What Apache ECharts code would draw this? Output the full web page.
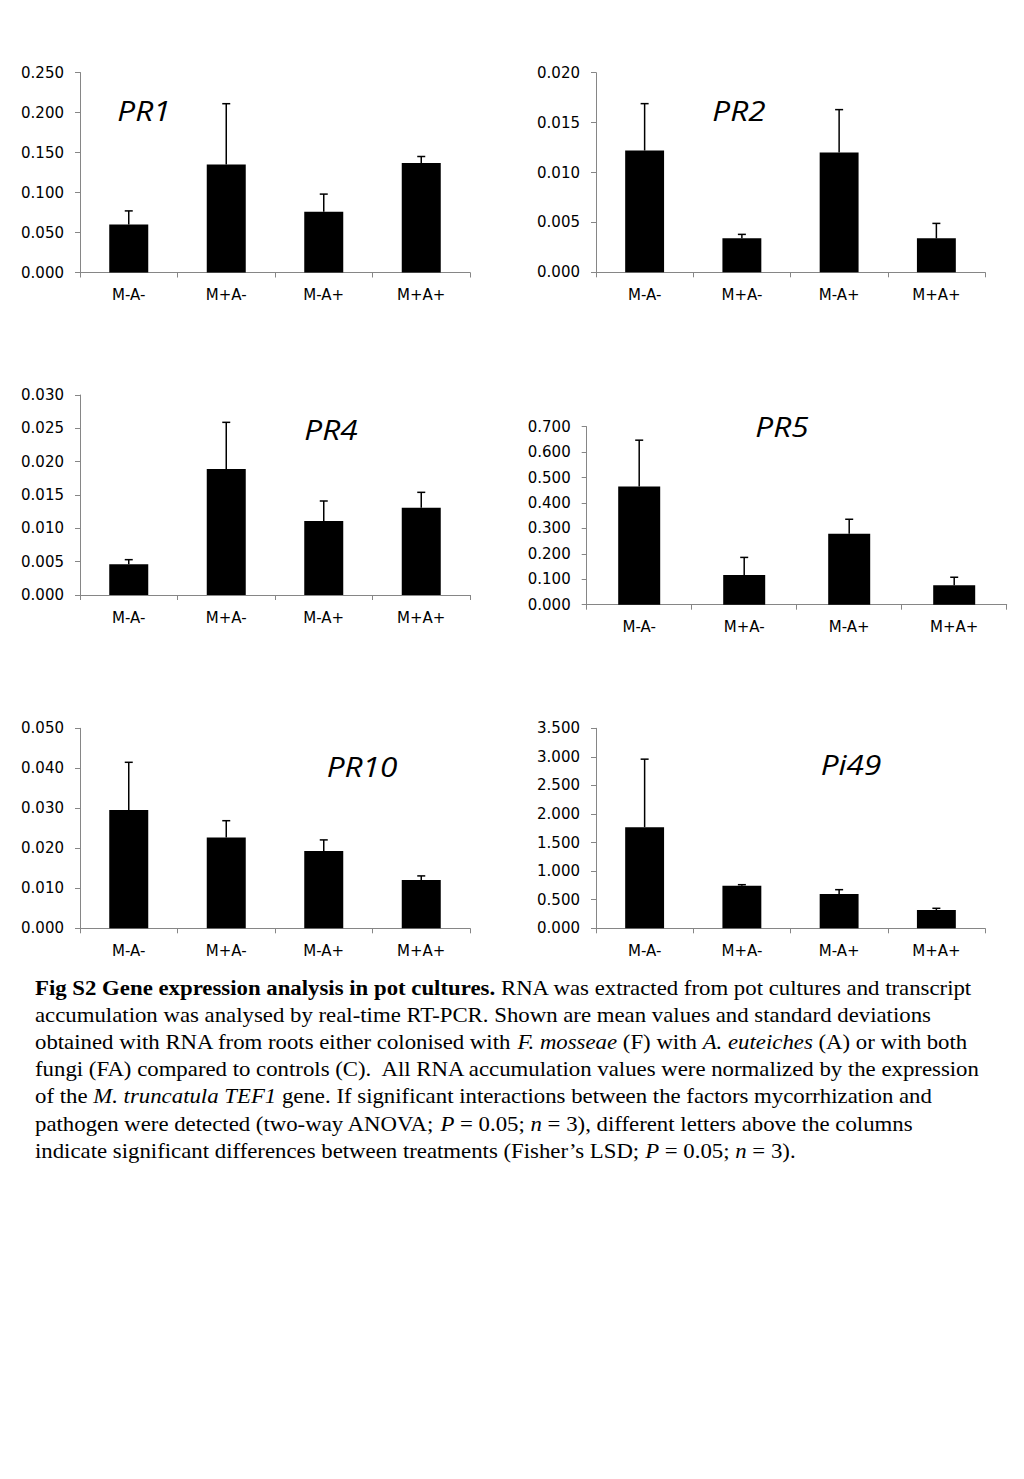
<!DOCTYPE html>
<html>
<head>
<meta charset="utf-8">
<script src="https://cdn.jsdelivr.net/npm/echarts@6/dist/echarts.min.js"></script>
<style>
html,body{margin:0;padding:0;background:#fff;}
#chart{width:1024px;height:1479px;}
</style>
</head>
<body>
<div id="chart"></div>
<script>
// ---- data ----
const categories = ['M-A-', 'M+A-', 'M-A+', 'M+A+'];
const pr1Mean = [0.060, 0.135, 0.076, 0.137];
const pr1Sd   = [0.017, 0.076, 0.022, 0.008];
const pr2Mean = [0.0122, 0.0034, 0.0120, 0.0034];
const pr2Sd   = [0.0047, 0.0004, 0.0043, 0.0015];
const pr4Mean = [0.0046, 0.0189, 0.0111, 0.0131];
const pr4Sd   = [0.0007, 0.0070, 0.0030, 0.0023];
const pr5Mean = [0.465, 0.117, 0.279, 0.076];
const pr5Sd   = [0.182, 0.069, 0.057, 0.032];
const pr10Mean = [0.0296, 0.0227, 0.0193, 0.0121];
const pr10Sd   = [0.0119, 0.0042, 0.0028, 0.0010];
const pi49Mean = [1.77, 0.745, 0.600, 0.320];
const pi49Sd   = [1.19, 0.018, 0.076, 0.030];
const geneNames = ['PR1', 'PR2', 'PR4', 'PR5', 'PR10', 'Pi49'];
const yMax = [0.25, 0.02, 0.03, 0.7, 0.05, 3.5];
const yInterval = [0.05, 0.005, 0.005, 0.1, 0.01, 0.5];
const captionLines = [
  '{b|Fig S2 Gene expression analysis in pot cultures.} RNA was extracted from pot cultures and transcript',
  'accumulation was analysed by real-time RT-PCR. Shown are mean values and standard deviations',
  'obtained with RNA from roots either colonised with {i|F. mosseae} (F) with {i|A. euteiches} (A) or with both',
  'fungi (FA) compared to controls (C).  All RNA accumulation values were normalized by the expression',
  'of the {i|M. truncatula TEF1} gene. If significant interactions between the factors mycorrhization and',
  'pathogen were detected (two-way ANOVA; {i|P} = 0.05; {i|n} = 3), different letters above the columns',
  'indicate significant differences between treatments (Fisher\u2019s LSD; {i|P} = 0.05; {i|n} = 3).'
];

const means = [pr1Mean, pr2Mean, pr4Mean, pr5Mean, pr10Mean, pi49Mean];
const sds = [pr1Sd, pr2Sd, pr4Sd, pr5Sd, pr10Sd, pi49Sd];

// ---- layout ----
const grids = [
  {left: 80, top: 72.5, width: 390, height: 200},
  {left: 596, top: 72.7, width: 389, height: 199.6},
  {left: 80, top: 395, width: 390, height: 200},
  {left: 586.7, top: 426.7, width: 420, height: 178},
  {left: 80, top: 728.3, width: 390, height: 200},
  {left: 596, top: 728.3, width: 389, height: 200}
];
const titlePos = [[144, 111], [739, 111], [331, 430], [782, 427], [362, 767], [851, 765]];

const axisGray = '#868686';
const tickFont = 'DejaVu Sans';

const option = {
  animation: false,
  backgroundColor: '#fff',
  grid: grids.map(g => Object.assign({containLabel: false}, g)),
  xAxis: grids.map((g, i) => ({
    type: 'category', gridIndex: i, data: categories,
    axisLine: {show: true, lineStyle: {color: axisGray, width: 1}},
    axisTick: {show: true, length: 5, inside: false, lineStyle: {color: axisGray}},
    axisLabel: {color: '#000', fontFamily: tickFont, fontSize: 15, margin: 15}
  })),
  yAxis: grids.map((g, i) => ({
    type: 'value', gridIndex: i, min: 0, max: yMax[i], interval: yInterval[i],
    axisLine: {show: true, lineStyle: {color: axisGray, width: 1}},
    axisTick: {show: true, length: 5, inside: false, lineStyle: {color: axisGray}},
    splitLine: {show: false},
    axisLabel: {color: '#000', fontFamily: tickFont, fontSize: 15, margin: 16,
      formatter: v => v.toFixed(3)}
  })),
  series: [],
  graphic: []
};

means.forEach((m, i) => {
  option.series.push({
    type: 'bar', xAxisIndex: i, yAxisIndex: i, data: m,
    barWidth: '40%', itemStyle: {color: '#000'}
  });
  option.series.push({
    type: 'custom', xAxisIndex: i, yAxisIndex: i, z: 5,
    data: m.map((v, k) => [k, v, v + sds[i][k]]),
    renderItem: function (params, api) {
      const base = api.coord([api.value(0), api.value(1)]);
      const top = api.coord([api.value(0), api.value(2)]);
      const half = 4;
      const st = {stroke: '#000', lineWidth: 1.5};
      return {type: 'group', children: [
        {type: 'line', shape: {x1: base[0], y1: base[1], x2: top[0], y2: top[1]}, style: st},
        {type: 'line', shape: {x1: top[0] - half, y1: top[1], x2: top[0] + half, y2: top[1]}, style: st}
      ]};
    }
  });
});

geneNames.forEach((name, i) => {
  option.graphic.push({
    type: 'text', x: titlePos[i][0], y: titlePos[i][1], scaleX: 1.17,
    style: {text: name, fontFamily: 'Open Sans', fontStyle: 'italic', fontSize: 27,
      fill: '#000', textAlign: 'center', textVerticalAlign: 'middle'}
  });
});

const capFont = 'Liberation Serif';
const capSize = 20;
captionLines.forEach((line, i) => {
  option.graphic.push({
    type: 'text', x: 35, y: 988 + 27.2 * i, scaleX: 1.14,
    style: {
      text: line, fontFamily: capFont, fontSize: capSize, fill: '#000',
      textAlign: 'left', textVerticalAlign: 'middle',
      rich: {
        b: {fontFamily: capFont, fontSize: capSize, fontWeight: 'bold', fill: '#000'},
        i: {fontFamily: capFont, fontSize: capSize, fontStyle: 'italic', fill: '#000'}
      }
    }
  });
});

const chart = echarts.init(document.getElementById('chart'), null, {renderer: 'svg'});
chart.setOption(option);
</script>
</body>
</html>
